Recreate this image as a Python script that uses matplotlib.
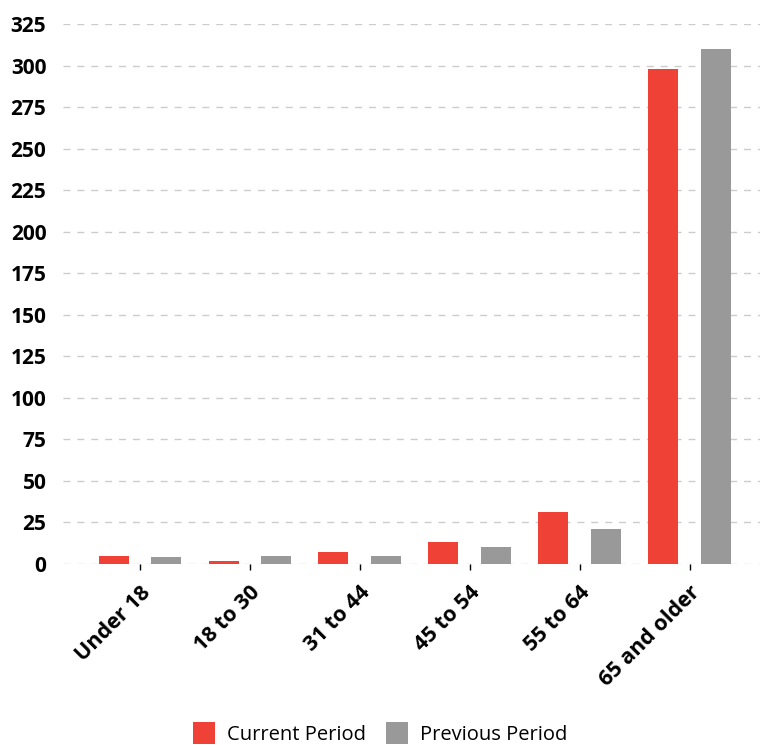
import matplotlib
matplotlib.use("Agg")
import matplotlib.pyplot as plt
import numpy as np

# Age group data
categories = ["Under 18", "18 to 30", "31 to 44", "45 to 54", "55 to 64", "65 and older"]
current_period = [5, 2, 7, 13, 31, 298]
previous_period = [4, 5, 5, 10, 21, 310]
y_ticks = list(range(0, 326, 25))

plt.rcParams["font.family"] = ["Open Sans", "DejaVu Sans"]

fig = plt.figure(figsize=(7.6, 7.45), dpi=100)
ax = fig.add_axes([63 / 760, 1 - 564 / 745, 697 / 760, 540 / 745])

x = np.arange(len(categories))
width = 0.273
ax.bar(x - 0.24, current_period, width, color="#ef4135", label="Current Period", zorder=3)
ax.bar(x + 0.24, previous_period, width, color="#999999", label="Previous Period", zorder=3)

ax.set_ylim(0, 325)
ax.set_xlim(-0.7, 5.64)
ax.set_yticks(y_ticks)
ax.set_yticklabels([str(v) for v in y_ticks], fontsize=15, fontweight="bold")
ax.set_xticks(x)
ax.set_xticklabels(categories, rotation=45, ha="right", rotation_mode="anchor",
                   fontsize=15.5, fontweight="bold")
ax.tick_params(axis="y", length=0, pad=12)
ax.tick_params(axis="x", length=4, width=1, pad=9, color="black")

ax.grid(axis="y", linestyle=(0, (5, 5)), color="#cccccc", linewidth=1, zorder=0)
for s in ax.spines.values():
    s.set_visible(False)

fig.legend(loc="lower center", bbox_to_anchor=(0.5, -0.024), ncol=2, frameon=False,
           fontsize=14.5, handlelength=1.1, handleheight=1.25, handletextpad=0.6,
           columnspacing=1.0)

fig.savefig("out.png", dpi=100)
